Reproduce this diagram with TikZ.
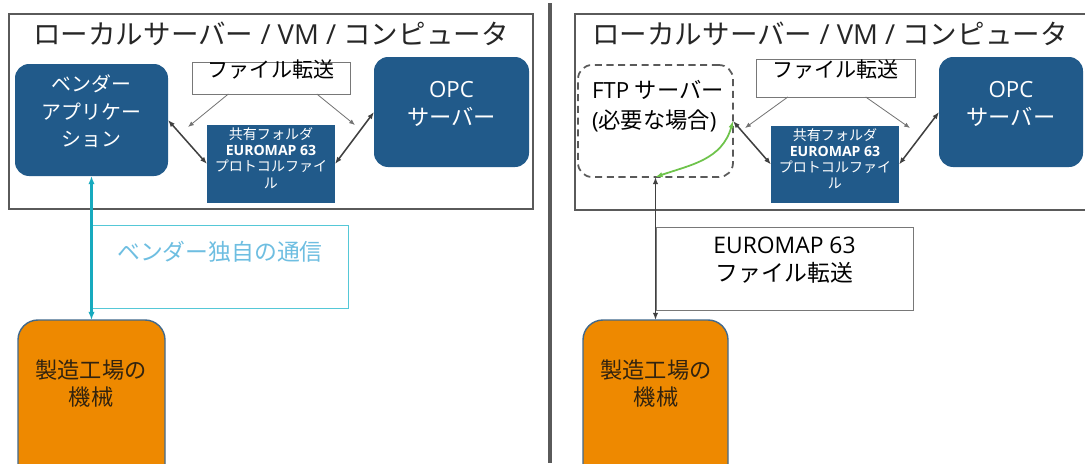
\documentclass[tikz,border=0pt]{standalone}
\usepackage{fontspec}
\setmainfont{Open Sans}
\newfontfamily\jp{Noto Sans CJK JP}
\usetikzlibrary{fit,calc,arrows.meta}

\definecolor{appblue}{RGB}{33,90,138}
\definecolor{framegray}{RGB}{90,90,90}
\definecolor{labelgray}{RGB}{120,120,120}
\definecolor{arrowgray}{RGB}{115,115,115}
\definecolor{linkgray}{RGB}{64,64,64}
\definecolor{machineorange}{RGB}{238,137,0}
\definecolor{machineedge}{RGB}{65,105,140}
\definecolor{vendorcyan}{RGB}{23,170,190}
\definecolor{vendorframe}{RGB}{85,200,215}
\definecolor{vendortext}{RGB}{110,190,225}
\definecolor{ftpgreen}{RGB}{110,195,75}
\definecolor{machinetext}{RGB}{50,35,15}

\begin{document}
\begin{tikzpicture}[x=0.03cm,y=-0.03cm,
    every node/.style={inner sep=0pt, outer sep=0pt, align=center},
    frame/.style={draw=framegray, line width=1.5pt},
    appbox/.style={fill=appblue, rounded corners=12pt, text=white},
    folderbox/.style={fill=appblue, text=white, font=\jp\fontsize{12pt}{13.8pt}\selectfont},
    xferbox/.style={draw=labelgray, fill=white, line width=0.6pt, font=\jp\fontsize{18pt}{22pt}\selectfont},
    machinebox/.style={fill=machineorange, draw=machineedge, line width=1.2pt, rounded corners=17pt},
    machinelabel/.style={text=machinetext, font=\jp\fontsize{19pt}{23pt}\selectfont},
    ftpbox/.style={draw=framegray, dash pattern=on 6pt off 4pt, line width=1.5pt, rounded corners=12pt},
    feed/.style={draw=arrowgray, line width=0.7pt, -{Latex[length=5pt,width=4pt]}},
    link/.style={draw=linkgray, line width=1.3pt, {Latex[length=6pt,width=4.5pt]}-{Latex[length=6pt,width=4.5pt]}},
    title/.style={font=\fontsize{23.5pt}{28pt}\selectfont, text=black!85}
  ]
  \useasboundingbox (0,0) rectangle (1085,463);

  % Divider
  \draw[draw=framegray, line width=2.6pt] (550,3) -- (550,463);

  %%%%%%%% Left: vendor application
  \draw[frame] (9,14) rectangle (533,209);
  \node[title] (titleL) at (271,34) {{\jp ローカルサーバー} / VM / {\jp コンピュータ}};

  \node[appbox, fit={(15,64) (168,176)}, font=\jp\fontsize{17pt}{23.5pt}\selectfont] (vendor) {ベンダー\\アプリケー\\ション};
  \node[xferbox, fit={(192,62) (350,94)}] (xferL) {ファイル転送};
  \node[folderbox, fit={(207,125) (335,203)}] (folderL) {共有フォルダ\\{\rmfamily\bfseries EUROMAP 63}\\プロトコルファイ\\ル};
  \node[appbox, fit={(374,57) (529,167)}, font=\fontsize{19pt}{24.5pt}\selectfont] (opcL) {OPC\\{\jp サーバー}};

  \coordinate (feedL1) at (188,127);
  \coordinate (feedL2) at (355,125);
  \draw[feed] ($(xferL.south west)!0.23!(xferL.south east)$) -- (feedL1);
  \draw[feed] ($(xferL.south west)!0.79!(xferL.south east)$) -- (feedL2);
  \draw[link] (vendor.east) -- (folderL.west);
  \draw[link] (folderL.east) -- (opcL.west);

  % Proprietary link
  \node[draw=vendorframe, line width=0.8pt, fit={(92,225) (348,308)}] (protoL) {};
  \node[text=vendortext, font=\jp\fontsize{19.5pt}{24pt}\selectfont] (protoLtext) at (220,252) {ベンダー独自の通信};

  \node[machinebox, fit={(18,320) (165,490)}] (machineL) {};
  \node[machinelabel] (machineLtext) at (91,384) {製造工場の\\機械};
  \draw[draw=vendorcyan, line width=1.8pt, {Latex[length=7pt,width=5.5pt]}-{Latex[length=7pt,width=5.5pt]}] (vendor.south) -- (machineL.north);

  %%%%%%%% Right: EUROMAP 63 file transfer
  \draw[frame] (575,14) rectangle (1110,210);
  \node[title] (titleR) at (830,34) {{\jp ローカルサーバー} / VM / {\jp コンピュータ}};

  \node[ftpbox, fit={(578,65) (733,177)}] (ftpsrv) {};
  \node[anchor=west, align=left, font=\fontsize{19pt}{25pt}\selectfont] (ftptext) at (592,106) {FTP {\jp サーバー}\\({\jp 必要な場合})};
  \node[xferbox, fit={(756,59) (915,97)}] (xferR) {ファイル転送};
  \node[folderbox, fit={(771,126) (899,203)}] (folderR) {共有フォルダ\\{\rmfamily\bfseries EUROMAP 63}\\プロトコルファイ\\ル};
  \node[appbox, fit={(939,57) (1083,167)}, font=\fontsize{19pt}{24.5pt}\selectfont] (opcR) {OPC\\{\jp サーバー}};

  \coordinate (feedR1) at (745,128);
  \coordinate (feedR2) at (910,128);
  \draw[feed] ($(xferR.south west)!0.2!(xferR.south east)$) -- (feedR1);
  \draw[feed] ($(xferR.south west)!0.69!(xferR.south east)$) -- (feedR2);
  \draw[link] (ftpsrv.east) -- (folderR.west);
  \draw[link] (folderR.east) -- (opcR.west);
  \draw[draw=ftpgreen, line width=1.5pt, {Latex[length=6pt,width=4.5pt]}-{Latex[length=6pt,width=4.5pt]}]
    (ftpsrv.south) .. controls (690,165) and (722,160) .. (ftpsrv.east);

  % File transfer link
  \node[draw=labelgray, line width=0.6pt, fit={(656,227) (913,310)}, font=\fontsize{19.5pt}{24pt}\selectfont] (protoR) {EUROMAP 63\\{\jp ファイル転送}};

  \node[machinebox, fit={(583,320) (728,490)}] (machineR) {};
  \node[machinelabel] (machineRtext) at (656,384) {製造工場の\\機械};
  \draw[draw=linkgray, line width=1.2pt, {Latex[length=6pt,width=4.5pt]}-{Latex[length=6pt,width=4.5pt]}] (ftpsrv.south) -- (machineR.north);
\end{tikzpicture}
\end{document}
